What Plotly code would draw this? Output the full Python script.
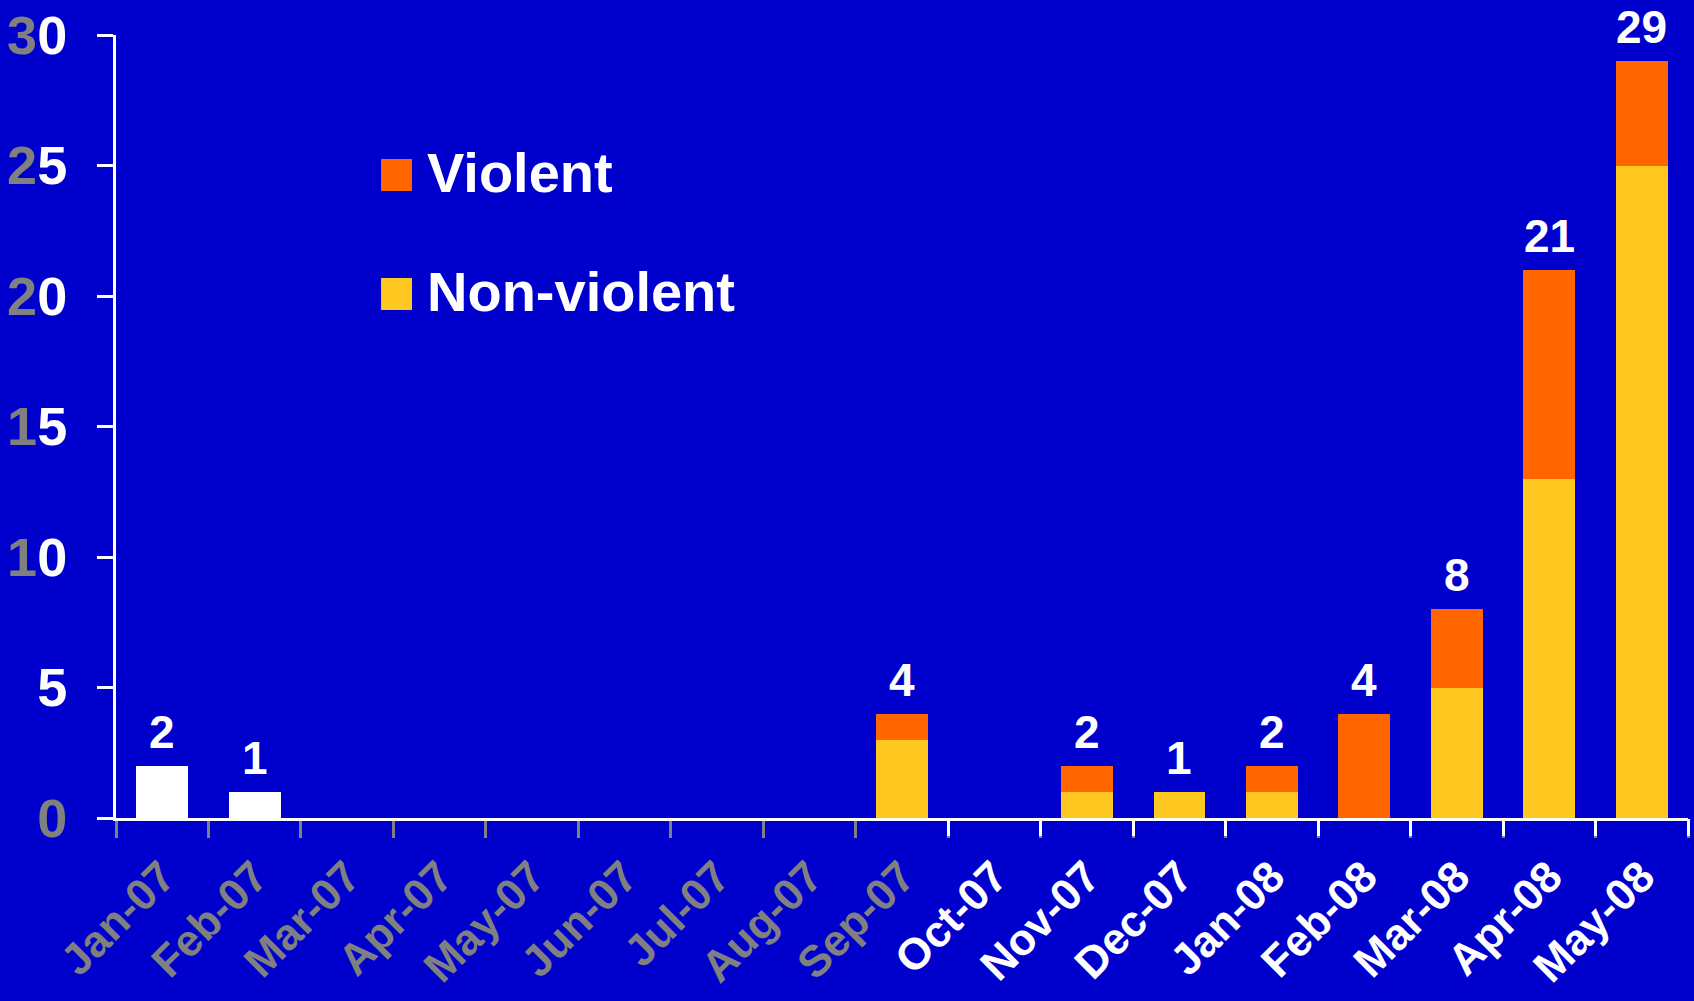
import plotly.graph_objects as go

# Monthly incident counts, stacked by type
months = ["Jan-07", "Feb-07", "Mar-07", "Apr-07", "May-07", "Jun-07", "Jul-07",
          "Aug-07", "Sep-07", "Oct-07", "Nov-07", "Dec-07", "Jan-08", "Feb-08",
          "Mar-08", "Apr-08", "May-08"]
unclassified = [2, 1, 0, 0, 0, 0, 0, 0, 0, 0, 0, 0, 0, 0, 0, 0, 0]
non_violent = [0, 0, 0, 0, 0, 0, 0, 0, 3, 0, 1, 1, 1, 0, 5, 13, 25]
violent = [0, 0, 0, 0, 0, 0, 0, 0, 1, 0, 1, 0, 1, 4, 3, 8, 4]

y_ticks = [0, 5, 10, 15, 20, 25, 30]

BG = "#0000CC"
ORANGE = "#FF6600"
YELLOW = "#FFC821"
GRAY = "#808080"
WHITE = "#FFFFFF"
FONT = "Liberation Sans, Arial, sans-serif"

totals = [u + n + v for u, n, v in zip(unclassified, non_violent, violent)]
n_gray = 9  # early months shown in gray


def gray(s):
    return f"<span style='color:{GRAY}'>{s}</span>"


x_text = [f"<b>{gray(m)}</b>" if i < n_gray else f"<b>{m}</b>" for i, m in enumerate(months)]


def y_label(v):
    s = str(v)
    if v == 0:
        return f"<b>{gray(s)}</b>"
    if len(s) == 2:
        return f"<b>{gray(s[0])}{s[1]}</b>"
    return f"<b>{s}</b>"


y_text = [y_label(v) for v in y_ticks]

fig = go.Figure()
fig.add_trace(go.Bar(x=months, y=unclassified, marker=dict(color=WHITE, line=dict(width=0)),
                     showlegend=False, name="Unclassified"))
fig.add_trace(go.Bar(x=months, y=non_violent, marker=dict(color=YELLOW, line=dict(width=0)),
                     showlegend=False, name="Non-violent"))
fig.add_trace(go.Bar(x=months, y=violent, marker=dict(color=ORANGE, line=dict(width=0)),
                     showlegend=False, name="Violent"))
# empty trace to carry the overlay axis with white boundary ticks
fig.add_trace(go.Scatter(x=[], y=[], xaxis="x2", showlegend=False, hoverinfo="skip"))

# totals above the bars
for m, t in zip(months, totals):
    if t > 0:
        fig.add_annotation(x=m, y=t, text=f"<b>{t}</b>", showarrow=False,
                           yanchor="bottom", yshift=6,
                           font=dict(family=FONT, size=46, color=WHITE))

# legend drawn by hand: big swatches and labels
legend_items = [("Violent", ORANGE, 0.8416, 0.8008, 0.8238),
                ("Non-violent", YELLOW, 0.6897, 0.6488, 0.6718)]
for label, col, y1, y0, ym in legend_items:
    fig.add_shape(type="rect", xref="paper", yref="paper", x0=0.1686, x1=0.1883,
                  y0=y0, y1=y1, fillcolor=col, line=dict(width=0))
    fig.add_annotation(xref="paper", yref="paper", x=0.1966, y=ym, text=f"<b>{label}</b>",
                       showarrow=False, xanchor="left", yanchor="middle",
                       font=dict(family=FONT, size=56, color=WHITE))

n = len(months)
fig.update_layout(
    barmode="stack",
    bargap=0.44,
    width=1694, height=1001,
    margin=dict(l=116, r=6, t=35, b=183),
    paper_bgcolor=BG, plot_bgcolor=BG,
    font=dict(family=FONT, color=WHITE),
    xaxis=dict(
        type="category", tickmode="array", tickvals=months, ticktext=x_text,
        tickson="boundaries", ticks="outside", ticklen=17, tickwidth=3, tickcolor=GRAY,
        tickangle=-45, tickfont=dict(family=FONT, size=44, color=WHITE),
        ticklabelstandoff=12, automargin=False,
        showline=True, linecolor=WHITE, linewidth=3, showgrid=False, zeroline=False,
    ),
    xaxis2=dict(
        overlaying="x", anchor="y", side="bottom", range=[-0.5, n - 0.5],
        tickmode="array", tickvals=[i + 0.5 for i in range(n_gray - 1, n)],
        ticks="outside", ticklen=17, tickwidth=3, tickcolor=WHITE,
        showticklabels=False, showline=False, showgrid=False, zeroline=False,
        automargin=False,
    ),
    yaxis=dict(
        range=[0, 30], tickmode="array", tickvals=y_ticks, ticktext=y_text,
        ticks="outside", ticklen=16, tickwidth=3, tickcolor=WHITE,
        tickfont=dict(family=FONT, size=54, color=WHITE), ticklabelstandoff=19,
        automargin=False,
        showline=True, linecolor=WHITE, linewidth=3, showgrid=False, zeroline=False,
    ),
)

fig.write_html("out.html")
